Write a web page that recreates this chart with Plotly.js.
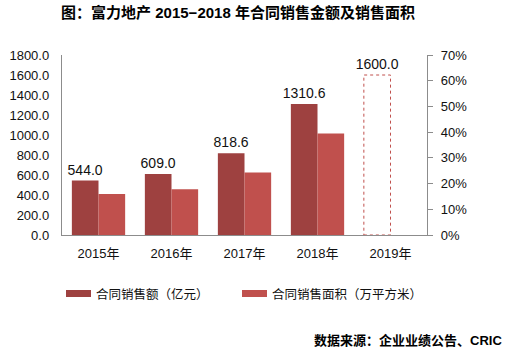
<!DOCTYPE html>
<html><head><meta charset="utf-8">
<script src="https://cdn.plot.ly/plotly-3.0.1.min.js"></script>
<style>html,body{margin:0;padding:0;background:#fff}#chart{width:517px;height:357px}</style>
</head><body><div id="chart"></div>
<script>
const categories = ['2015年','2016年','2017年','2018年','2019年'];
const salesAmount = [544.0, 609.0, 818.6, 1310.6, 1600.0];   // 合同销售额（亿元）
const salesArea = [411, 457, 626, 1014, null];               // 合同销售面积（万平方米）
const leftTicks = [0,200,400,600,800,1000,1200,1400,1600,1800];
const rightTicks = [0,0.1,0.2,0.3,0.4,0.5,0.6,0.7];
const targetIndex = 4; // 2019 target shown as dashed outline

const FONT = 'Liberation Sans, Arial, Noto Sans CJK SC, sans-serif';
const DARK = '#9E4140', LIGHT = '#C0504D';
const bargap = 0.27;

const darkColors = categories.map((c,i)=> i===targetIndex ? 'rgba(255,255,255,0)' : DARK);

const traces = [
  {type:'bar', x:categories, y:salesAmount, name:'合同销售额（亿元）',
   marker:{color:darkColors, line:{width:0}},
   text:salesAmount.map(v=>v.toFixed(1)), textposition:'outside', constraintext:'none',
   textfont:{family:FONT, size:14, color:'#111'}, cliponaxis:false,
   hoverinfo:'skip', showlegend:false},
  {type:'bar', x:categories, y:salesArea, name:'合同销售面积（万平方米）',
   marker:{color:LIGHT, line:{width:0}}, hoverinfo:'skip', showlegend:false},
  {type:'scatter', x:categories, y:categories.map(()=>null), yaxis:'y2',
   mode:'lines', showlegend:false, hoverinfo:'skip'}
];

const halfW = (1-bargap)/2;
const shapes = [
  {type:'rect', xref:'x', yref:'y', x0:targetIndex-halfW, x1:targetIndex,
   y0:0, y1:salesAmount[targetIndex], line:{color:LIGHT, width:1, dash:'dot'}, fillcolor:'rgba(0,0,0,0)'},
  {type:'rect', xref:'paper', yref:'paper', x0:4/365, x1:29/365, y0:(235-290)/180, y1:(235-297)/180,
   fillcolor:DARK, line:{width:0}},
  {type:'rect', xref:'paper', yref:'paper', x0:180/365, x1:205/365, y0:(235-290)/180, y1:(235-297)/180,
   fillcolor:LIGHT, line:{width:0}}
];

const annotations = [
  {xref:'paper', yref:'paper', x:32/365, y:(235-293.5)/180, xanchor:'left', yanchor:'middle',
   text:'合同销售额（亿元）', showarrow:false, font:{family:'Noto Sans CJK SC', size:12.5, color:'#111'}},
  {xref:'paper', yref:'paper', x:208/365, y:(235-293.5)/180, xanchor:'left', yanchor:'middle',
   text:'合同销售面积（万平方米）', showarrow:false, font:{family:'Noto Sans CJK SC', size:12.5, color:'#111'}},
  {xref:'paper', yref:'paper', x:(504-62)/365, y:(235-340)/180, xanchor:'right', yanchor:'middle',
   text:'<b>数据来源：企业业绩公告、CRIC</b>', showarrow:false,
   font:{family:'Liberation Sans, Noto Sans CJK SC', size:13, color:'#000'}}
];

const layout = {
  width:517, height:357,
  margin:{l:62, r:90, t:55, b:122},
  paper_bgcolor:'#fff', plot_bgcolor:'#fff',
  title:{text:'<b>图：富力地产 2015−2018 年合同销售金额及销售面积</b>',
    font:{family:'Liberation Sans, Noto Sans CJK SC', size:15, color:'#000'},
    x:238/517, xref:'container', xanchor:'center', y:1-13/357, yref:'container', yanchor:'middle'},
  barmode:'group', bargap:bargap, bargroupgap:0,
  showlegend:false,
  xaxis:{type:'category', categoryarray:categories, showgrid:false, zeroline:false,
    showline:true, linecolor:'#8c8c8c', linewidth:1.2, ticks:'',
    tickfont:{family:FONT, size:13, color:'#111'}, ticklabelstandoff:6, fixedrange:true},
  yaxis:{range:[0,1800], tickvals:leftTicks, tickformat:'.1f', showgrid:false, zeroline:false,
    showline:true, linecolor:'#8c8c8c', linewidth:1.2, ticks:'',
    tickfont:{family:FONT, size:13, color:'#111'}, ticklabelstandoff:9},
  yaxis2:{overlaying:'y', side:'right', range:[0,0.7], tickvals:rightTicks, tickformat:'.0%',
    showgrid:false, zeroline:false, showline:true, linecolor:'#8c8c8c', linewidth:1.2,
    ticks:'outside', ticklen:5, tickcolor:'#8c8c8c',
    tickfont:{family:FONT, size:13, color:'#111'}, ticklabelstandoff:5},
  shapes:shapes, annotations:annotations
};

Plotly.newPlot('chart', traces, layout, {staticPlot:true, displayModeBar:false});
</script></body></html>
